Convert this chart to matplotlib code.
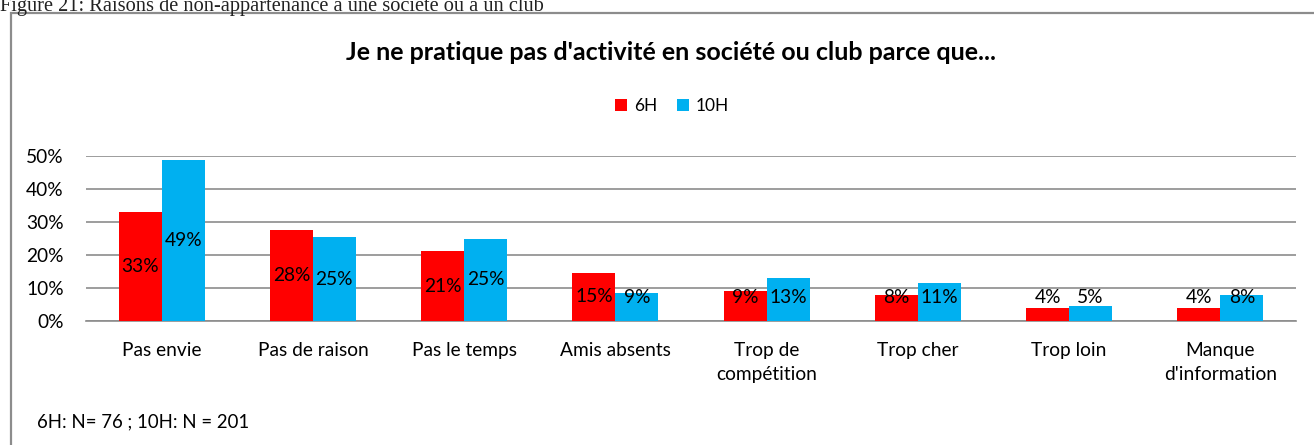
import matplotlib
matplotlib.use('Agg')
from matplotlib import pyplot
from matplotlib.patches import Rectangle
import numpy

# data (percent)
categories = ['Pas envie', 'Pas de raison', 'Pas le temps', 'Amis absents',
              'Trop de\ncompétition', 'Trop cher', 'Trop loin',
              "Manque\nd'information"]
series_names = ['6H', '10H']
values_6h = [32.9, 27.6, 21.1, 14.6, 9.2, 7.9, 3.9, 3.9]
values_10h = [48.8, 25.4, 24.9, 8.6, 12.9, 11.4, 4.6, 8.0]
yticks = [0, 10, 20, 30, 40, 50]

colors = ['#FF0000', '#00B0F0']
font = 'Lato'

pyplot.rcParams['font.family'] = font

fig = pyplot.figure(figsize=(13.14, 4.45), dpi=100)
W, H = 1314.0, 445.0

# caption of the document, cut by the top border
fig.text(0.0, 1 - 11 / H, 'Figure 21: Raisons de non-appartenance à une société ou à un club',
         family='Liberation Serif', fontsize=14.7, color='#222222',
         ha='left', va='baseline')

# chart frame
fig.patches.append(Rectangle((11 / W, -0.1), 1.2, 1.1 - 13 / H,
                             transform=fig.transFigure, fill=False,
                             edgecolor='#8c8c8c', linewidth=1.6))

ax = fig.add_axes([86 / W, 124 / H, 1210 / W, 165 / H])
x = numpy.arange(len(categories))
width = 0.284
data = [values_6h, values_10h]
for i, (vals, name) in enumerate(zip(data, series_names)):
    pos = x + (i - 0.5) * width
    ax.bar(pos, vals, width=width, color=colors[i], label=name, zorder=3)
    for p, v in zip(pos, vals):
        ax.text(p, max(v / 2.0, 7.0), '{:.0f}%'.format(v), ha='center',
                va='center', fontsize=13.8, color='black', zorder=4)

ax.set_xlim(-0.5, len(categories) - 0.5)
ax.set_ylim(0, 50)
ax.set_yticks(yticks)
ax.set_yticklabels(['{}%'.format(t) for t in yticks])
ax.set_xticks(x)
ax.set_xticklabels(categories, linespacing=1.5)
ax.tick_params(axis='y', length=0, pad=16, labelsize=13.8)
ax.tick_params(axis='x', length=0, pad=15, labelsize=13.8)
ax.grid(True, axis='y', color='#8c8c8c', linewidth=1.2, zorder=0)
for side in ['top', 'right', 'left']:
    ax.spines[side].set_visible(False)
ax.spines['bottom'].set_color('#8c8c8c')
ax.spines['bottom'].set_linewidth(1.2)

fig.text(671 / W, 1 - 53 / H,
         "Je ne pratique pas d'activité en société ou club parce que...",
         fontsize=18, fontweight='bold', ha='center', va='center')

fig.legend(loc='center', bbox_to_anchor=(672 / W, 1 - 106 / H), ncol=2,
           frameon=False, fontsize=12.5, handlelength=0.7, handleheight=0.7,
           handletextpad=0.4, columnspacing=1.1)

fig.text(37 / W, 1 - 422 / H, '6H: N= 76 ; 10H: N = 201', fontsize=13.4,
         ha='left', va='center')

fig.savefig('out.png', dpi=100)
